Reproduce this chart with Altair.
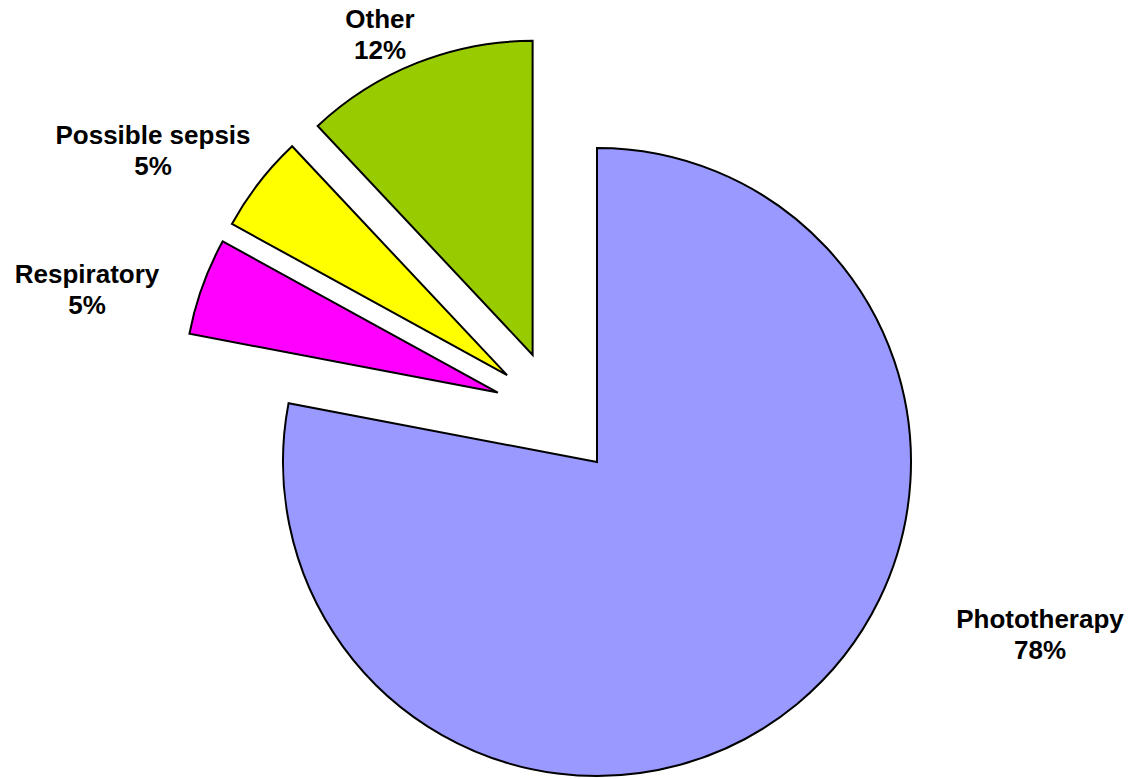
import altair as alt
import pandas as pd

# ---- data ----
categories = ["Phototherapy", "Respiratory", "Possible sepsis", "Other"]
values = [78, 5, 5, 12]

# ---- style ----
colors = ["#9999FF", "#FF00FF", "#FFFF00", "#99CC00"]
explode_dist = [0, 121, 125, 125]          # px, distance each slice is pulled out
explode_dir = [0, 305, 314, 329]           # degrees clockwise from 12 o'clock
label_dx = [443, -510, -444, -217]         # label anchor offset from pie centre
label_dy = [166, -179, -318, -434]
CX, CY, R = 597, 462, 314
W, H = 1132, 779

df = pd.DataFrame({
    "category": categories,
    "value": values,
    "order": list(range(len(categories))),
    "ed": explode_dist,
    "ea": explode_dir,
    "ldx": label_dx,
    "ldy": label_dy,
})

base = alt.Chart(df).transform_window(
    cum="sum(value)", sort=[alt.SortField("order")], frame=[None, 0]
).transform_joinaggregate(
    total="sum(value)"
).transform_calculate(
    t0="(datum.cum - datum.value) / datum.total * 2 * PI",
    t1="datum.cum / datum.total * 2 * PI",
    px=f"{CX} + datum.ed * sin(datum.ea * PI / 180)",
    py=f"{CY} - datum.ed * cos(datum.ea * PI / 180)",
    lx=f"{CX} + datum.ldx",
    ly=f"{CY} + datum.ldy",
    label="datum.category + '\\n' + datum.value + '%'",
)

arcs = base.mark_arc(radius=R, stroke="black", strokeWidth=2, strokeJoin="miter").encode(
    x=alt.X("px:Q", scale=None),
    y=alt.Y("py:Q", scale=None),
    theta=alt.Theta("t0:Q", scale=None),
    theta2="t1:Q",
    color=alt.Color("category:N", scale=alt.Scale(domain=categories, range=colors), legend=None),
)

labels = base.mark_text(
    lineBreak="\n", lineHeight=31, baseline="alphabetic", align="center",
    fontSize=26, fontWeight="bold", font="Liberation Sans", color="black",
).encode(
    x=alt.X("lx:Q", scale=None),
    y=alt.Y("ly:Q", scale=None),
    text="label:N",
)

chart = alt.layer(arcs, labels).properties(
    width=W, height=H, padding=0, autosize="none", background="white"
).configure_view(stroke=None)

chart.save("out.html", embed_options={"renderer": "svg", "actions": False})
